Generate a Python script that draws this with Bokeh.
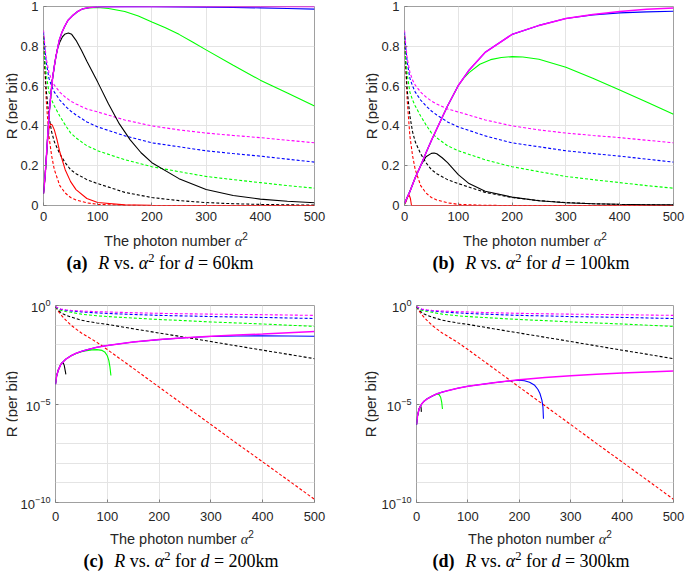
from bokeh.plotting import figure
from bokeh.models import Range1d, FixedTicker, PrintfTickFormatter, LogTickFormatter, Div
from bokeh.layouts import column, row
from bokeh.embed import file_html
from bokeh.resources import INLINE

# ---------------- data ----------------
# dashed curves (same in every panel)
x_dash = [0, 2, 5, 10, 15, 20, 30, 40, 50, 60, 80, 100, 150, 200, 250, 300, 350, 400, 450, 500]
magenta_dash = [0.88, 0.82, 0.74, 0.67, 0.63, 0.605, 0.57, 0.545, 0.525, 0.51, 0.485, 0.47, 0.43, 0.40, 0.38, 0.364, 0.352, 0.341, 0.328, 0.315]
blue_dash = [0.87, 0.80, 0.72, 0.64, 0.60, 0.57, 0.53, 0.50, 0.475, 0.455, 0.42, 0.395, 0.35, 0.315, 0.295, 0.275, 0.261, 0.248, 0.233, 0.218]
green_dash = [0.85, 0.74, 0.66, 0.57, 0.53, 0.50, 0.45, 0.405, 0.365, 0.34, 0.30, 0.275, 0.23, 0.195, 0.17, 0.146, 0.13, 0.115, 0.10, 0.087]
black_dash = [0.85, 0.72, 0.58, 0.45, 0.37, 0.32, 0.26, 0.215, 0.18, 0.16, 0.13, 0.11, 0.066, 0.040, 0.0245, 0.0148, 0.0089, 0.0054, 0.0033, 0.002]
red_dash = [0.85, 0.72, 0.53, 0.35, 0.25, 0.18, 0.10, 0.063, 0.04, 0.028, 0.0135, 0.0058, 6.5e-4, 7.2e-5, 8.1e-6, 9.1e-7, 1.0e-7, 1.15e-8, 1.3e-9, 1.45e-10]

# panel (a): d = 60 km, solid curves
a_mag_x = [0, 3, 5, 8, 11, 14, 17, 20, 23, 26, 29, 34, 39, 45, 54, 63, 72, 85, 100, 150, 200, 300, 400, 500]
a_mag_y = [0.06, 0.15, 0.23, 0.36, 0.48, 0.57, 0.645, 0.70, 0.75, 0.79, 0.83, 0.87, 0.90, 0.93, 0.955, 0.975, 0.988, 0.995, 0.999, 1.0, 1.0, 1.0, 1.0, 1.0]
a_blue_x = [0, 3, 5, 8, 11, 14, 17, 20, 23, 26, 29, 34, 39, 45, 54, 63, 72, 85, 100, 150, 200, 250, 300, 350, 400, 450, 500]
a_blue_y = [0.06, 0.15, 0.23, 0.36, 0.48, 0.57, 0.645, 0.70, 0.75, 0.79, 0.83, 0.87, 0.90, 0.93, 0.955, 0.975, 0.988, 0.995, 0.999, 1.0, 0.999, 0.998, 0.997, 0.995, 0.993, 0.99, 0.987]
a_green_x = [0, 3, 5, 8, 11, 14, 17, 20, 23, 26, 29, 34, 39, 45, 54, 63, 72, 85, 100, 120, 150, 175, 200, 225, 250, 275, 300, 350, 400, 450, 500]
a_green_y = [0.06, 0.15, 0.23, 0.36, 0.48, 0.57, 0.645, 0.70, 0.75, 0.79, 0.83, 0.87, 0.90, 0.93, 0.955, 0.975, 0.988, 0.993, 0.995, 0.99, 0.975, 0.952, 0.922, 0.893, 0.86, 0.822, 0.782, 0.705, 0.63, 0.565, 0.50]
a_black_x = [0, 3, 5, 8, 11, 14, 17, 20, 23, 26, 30, 35, 40, 46, 52, 60, 70, 80, 100, 120, 140, 160, 180, 200, 250, 300, 350, 400, 450, 500]
a_black_y = [0.06, 0.15, 0.23, 0.36, 0.48, 0.57, 0.645, 0.70, 0.75, 0.79, 0.82, 0.848, 0.862, 0.867, 0.86, 0.83, 0.78, 0.725, 0.62, 0.51, 0.41, 0.33, 0.265, 0.215, 0.135, 0.08, 0.05, 0.032, 0.021, 0.014]
a_red_x = [0, 3, 5, 8, 10, 13, 16, 20, 25, 30, 40, 50, 60, 80, 100, 150, 200, 300, 400, 500]
a_red_y = [0.06, 0.15, 0.23, 0.34, 0.385, 0.41, 0.405, 0.38, 0.33, 0.27, 0.18, 0.12, 0.08, 0.035, 0.015, 0.003, 0.0005, 0.0, 0.0, 0.0]

# panel (b): d = 100 km, solid curves
b_mag_x = [0, 10, 20, 30, 40, 50, 60, 80, 100, 120, 150, 200, 250, 300, 350, 400, 450, 500]
b_mag_y = [0.01, 0.07, 0.14, 0.20, 0.265, 0.327, 0.385, 0.50, 0.603, 0.68, 0.77, 0.86, 0.905, 0.94, 0.96, 0.975, 0.986, 0.993]
b_blue_x = [0, 10, 20, 30, 40, 50, 60, 80, 100, 120, 150, 200, 250, 300, 350, 400, 450, 500]
b_blue_y = [0.01, 0.07, 0.14, 0.20, 0.265, 0.327, 0.385, 0.50, 0.603, 0.68, 0.77, 0.86, 0.905, 0.94, 0.958, 0.968, 0.973, 0.976]
b_green_x = [0, 10, 20, 30, 40, 50, 60, 80, 100, 110, 120, 140, 160, 180, 200, 220, 250, 300, 350, 400, 450, 500]
b_green_y = [0.01, 0.07, 0.14, 0.20, 0.265, 0.327, 0.385, 0.50, 0.603, 0.64, 0.668, 0.71, 0.733, 0.744, 0.748, 0.746, 0.735, 0.695, 0.64, 0.58, 0.52, 0.458]
b_black_x = [0, 10, 20, 30, 40, 50, 55, 60, 70, 80, 100, 120, 150, 200, 250, 300, 350, 400, 450, 500]
b_black_y = [0.01, 0.07, 0.14, 0.20, 0.245, 0.262, 0.264, 0.26, 0.24, 0.215, 0.155, 0.11, 0.072, 0.042, 0.024, 0.014, 0.009, 0.006, 0.004, 0.003]
b_red_x = [0, 3, 6, 9, 11, 13, 100, 500]
b_red_y = [0.005, 0.02, 0.045, 0.05, 0.035, 0.0, 0.0, 0.0]

# panel (c): d = 200 km, solid curves (log scale)
c_mag_x = [0, 2, 5, 10, 15, 20, 30, 40, 50, 60, 80, 100, 150, 200, 250, 300, 350, 400, 450, 500]
c_mag_y = [1.0e-4, 2.5e-4, 5.0e-4, 1.0e-3, 1.41e-3, 1.9e-3, 2.8e-3, 3.8e-3, 4.7e-3, 5.6e-3, 7.6e-3, 9.3e-3, 1.41e-2, 1.86e-2, 2.29e-2, 2.75e-2, 3.16e-2, 3.55e-2, 4.17e-2, 4.79e-2]
c_blue_x = [0, 2, 5, 10, 15, 20, 30, 40, 50, 60, 80, 100, 150, 200, 250, 300, 350, 400, 450, 500]
c_blue_y = [1.0e-4, 2.5e-4, 5.0e-4, 1.0e-3, 1.41e-3, 1.9e-3, 2.8e-3, 3.8e-3, 4.7e-3, 5.6e-3, 7.6e-3, 9.3e-3, 1.41e-2, 1.86e-2, 2.29e-2, 2.69e-2, 2.82e-2, 2.88e-2, 2.85e-2, 2.75e-2]
c_green_x = [0, 2, 5, 10, 15, 20, 30, 40, 50, 60, 70, 80, 90, 95, 100, 103, 105, 107]
c_green_y = [1.0e-4, 2.5e-4, 5.0e-4, 1.0e-3, 1.41e-3, 1.9e-3, 2.8e-3, 3.7e-3, 4.5e-3, 5.1e-3, 5.6e-3, 5.75e-3, 5.25e-3, 4.4e-3, 2.8e-3, 1.6e-3, 7.9e-4, 2.8e-4]
c_black_x = [0, 2, 5, 10, 13, 15, 17, 18, 19, 20]
c_black_y = [1.0e-4, 2.5e-4, 5.0e-4, 1.0e-3, 1.26e-3, 1.2e-3, 8.9e-4, 6.3e-4, 4.5e-4, 3.2e-4]

# panel (d): d = 300 km, solid curves (log scale)
d_mag_x = [0, 2, 5, 10, 15, 20, 30, 40, 50, 60, 80, 100, 150, 200, 250, 300, 350, 400, 450, 500]
d_mag_y = [8.9e-7, 2.5e-6, 5.6e-6, 1.0e-5, 1.41e-5, 1.78e-5, 2.5e-5, 3.3e-5, 4.0e-5, 4.7e-5, 6.3e-5, 7.9e-5, 1.2e-4, 1.7e-4, 2.19e-4, 2.69e-4, 3.24e-4, 3.72e-4, 4.17e-4, 4.68e-4]
d_blue_x = [0, 2, 5, 10, 15, 20, 30, 40, 50, 60, 80, 100, 150, 180, 200, 210, 220, 230, 236, 240, 244, 246, 247]
d_blue_y = [8.9e-7, 2.5e-6, 5.6e-6, 1.0e-5, 1.41e-5, 1.78e-5, 2.5e-5, 3.3e-5, 4.0e-5, 4.7e-5, 6.3e-5, 7.9e-5, 1.2e-4, 1.48e-4, 1.62e-4, 1.51e-4, 1.26e-4, 8.9e-5, 5.6e-5, 3.5e-5, 1.58e-5, 7.1e-6, 1.78e-6]
d_green_x = [0, 2, 5, 10, 15, 20, 30, 35, 40, 44, 47, 49, 50.5]
d_green_y = [8.9e-7, 2.5e-6, 5.6e-6, 1.0e-5, 1.41e-5, 1.78e-5, 2.5e-5, 2.9e-5, 3.2e-5, 3.0e-5, 2.2e-5, 1.26e-5, 5.6e-6]
d_black_x = [0, 2, 5, 8, 9, 9.5]
d_black_y = [8.9e-7, 2.5e-6, 5.6e-6, 8.3e-6, 6.3e-6, 4.0e-6]

x_ticks = [0, 100, 200, 300, 400, 500]
lin_ticks = [0, 0.2, 0.4, 0.6, 0.8, 1]
log_ticks = [1e-10, 1e-5, 1]
log_minor = [1e-9, 1e-8, 1e-7, 1e-6, 1e-4, 1e-3, 1e-2, 1e-1]

y_label = "R (per bit)"
x_label = "The photon number"
captions = [("(a)", "60km"), ("(b)", "100km"), ("(c)", "200km"), ("(d)", "300km")]

# ---------------- styling helpers ----------------
RED, BLACK, GREEN, BLUE, MAGENTA = "#ff0000", "#000000", "#00ff00", "#0000ff", "#ff00ff"
SANS = "Liberation Sans"
SERIF = "Liberation Serif"
TXT = "#262626"


def make_fig(w, h, bl, br, bt, bb, log, xstand):
    kw = dict(width=w, height=h, output_backend="svg", toolbar_location=None,
              x_range=Range1d(0, 500), min_border_left=bl, min_border_right=br,
              min_border_top=bt, min_border_bottom=bb)
    if log:
        kw.update(y_axis_type="log", y_range=Range1d(1e-10, 1))
    else:
        kw.update(y_range=Range1d(0, 1))
    p = figure(**kw)
    p.outline_line_color = "#a0a0a0"
    p.outline_line_width = 1
    p.background_fill_color = "white"
    p.border_fill_color = "white"
    p.xaxis.ticker = FixedTicker(ticks=x_ticks)
    if log:
        p.yaxis.ticker = FixedTicker(ticks=log_ticks, minor_ticks=log_minor)
        p.yaxis.formatter = LogTickFormatter()
        p.ygrid.minor_grid_line_color = "#e4e4e4"
    else:
        p.yaxis.ticker = FixedTicker(ticks=lin_ticks)
        p.yaxis.formatter = PrintfTickFormatter(format="%g")
    for ax in p.axis:
        ax.axis_line_color = None
        ax.major_tick_in = 3
        ax.major_tick_out = 0
        ax.minor_tick_in = 0
        ax.minor_tick_out = 0
        ax.major_tick_line_color = "#808080"
        ax.major_label_text_font = SANS
        ax.major_label_text_font_size = "13px"
        ax.major_label_text_color = TXT
        ax.major_label_standoff = 5
    p.xaxis.major_label_standoff = xstand
    p.grid.grid_line_color = "#e4e4e4"
    return p


def ylab_div(w, h, cx, cy):
    html = ('<div style="position:relative;width:%dpx;height:%dpx;">'
            '<div style="position:absolute;left:%.1fpx;top:%.1fpx;transform:translate(-50%%,-50%%) rotate(-90deg);'
            'white-space:nowrap;font-family:\'%s\';font-size:15px;color:%s;line-height:1;">%s</div></div>'
            % (w, h, cx, cy, SANS, TXT, y_label))
    return Div(text=html, width=w, height=h, margin=0)


def bottom_div(w, h, xl_cx, xl_cy, cap_cx, cap_cy, tag, dist, cap_size):
    xl = ('<div style="position:absolute;left:%.1fpx;top:%.1fpx;transform:translate(-50%%,-50%%);white-space:nowrap;'
          'font-family:\'%s\';font-size:14.5px;color:%s;line-height:1;">%s '
          '<i style="font-family:\'%s\';">α</i><sup style="font-size:10px;">2</sup></div>'
          % (xl_cx, xl_cy, SANS, TXT, x_label, SERIF))
    cap = ('<div style="position:absolute;left:%.1fpx;top:%.1fpx;transform:translate(-50%%,-50%%);white-space:nowrap;'
           'font-family:\'%s\';font-size:%dpx;color:black;line-height:1;">'
           '<b style="margin-right:0.6em;">%s</b><i>R</i> vs. <i>α</i><sup style="font-size:0.7em;">2</sup> for '
           '<i>d</i> = %s</div>' % (cap_cx, cap_cy, SERIF, cap_size, tag, dist))
    html = '<div style="position:relative;width:%dpx;height:%dpx;">%s%s</div>' % (w, h, xl, cap)
    return Div(text=html, width=w, height=h, margin=0)


def add_dashed(p):
    for ys, c in [(red_dash, RED), (black_dash, BLACK), (green_dash, GREEN), (blue_dash, BLUE), (magenta_dash, MAGENTA)]:
        p.line(x_dash, ys, line_color=c, line_width=1.1, line_dash="3 2")


def add_solid(p, curves):
    for xs, ys, c in curves:
        p.line(xs, ys, line_color=c, line_width=1.5 if c == MAGENTA else 1.1)


# ---------------- panel (a): window x 0..340, y 0..290 ----------------
pa = make_fig(323, 227, 25, 26, 6, 22, False, 6)
add_dashed(pa)
add_solid(pa, [(a_red_x, a_red_y, RED), (a_black_x, a_black_y, BLACK), (a_green_x, a_green_y, GREEN),
               (a_blue_x, a_blue_y, BLUE), (a_mag_x, a_mag_y, MAGENTA)])
panel_a = column(row(ylab_div(17, 227, 10.5, 106), pa),
                 bottom_div(340, 63, 176, 13, 160, 35, captions[0][0], captions[0][1], 18))

# ---------------- panel (b): window x 340..685, y 0..290 ----------------
pb = make_fig(307, 227, 23, 12, 6, 22, False, 6)
add_dashed(pb)
add_solid(pb, [(b_red_x, b_red_y, RED), (b_black_x, b_black_y, BLACK), (b_green_x, b_green_y, GREEN),
               (b_blue_x, b_blue_y, BLUE), (b_mag_x, b_mag_y, MAGENTA)])
panel_b = column(row(ylab_div(38, 227, 31, 106), pb),
                 bottom_div(345, 63, 195, 13, 191, 35, captions[1][0], captions[1][1], 18))

# ---------------- panel (c): window x 0..340, y 290..571 ----------------
pc = make_fig(323, 237, 35, 26, 15, 25, True, 9)
add_dashed(pc)
add_solid(pc, [(c_black_x, c_black_y, BLACK), (c_green_x, c_green_y, GREEN),
               (c_blue_x, c_blue_y, BLUE), (c_mag_x, c_mag_y, MAGENTA)])
panel_c = column(row(ylab_div(17, 237, 10.5, 113.5), pc),
                 bottom_div(340, 44, 182, 11, 181, 33, captions[2][0], captions[2][1], 18))

# ---------------- panel (d): window x 340..685, y 290..571 ----------------
pd_ = make_fig(307, 237, 34, 12, 15, 25, True, 9)
add_dashed(pd_)
add_solid(pd_, [(d_black_x, d_black_y, BLACK), (d_green_x, d_green_y, GREEN),
                (d_blue_x, d_blue_y, BLUE), (d_mag_x, d_mag_y, MAGENTA)])
panel_d = column(row(ylab_div(38, 237, 30, 113.5), pd_),
                 bottom_div(345, 44, 200, 11, 191, 33, captions[3][0], captions[3][1], 18))

layout = column(row(panel_a, panel_b), row(panel_c, panel_d))
open("out.html", "w").write(file_html(layout, INLINE))
